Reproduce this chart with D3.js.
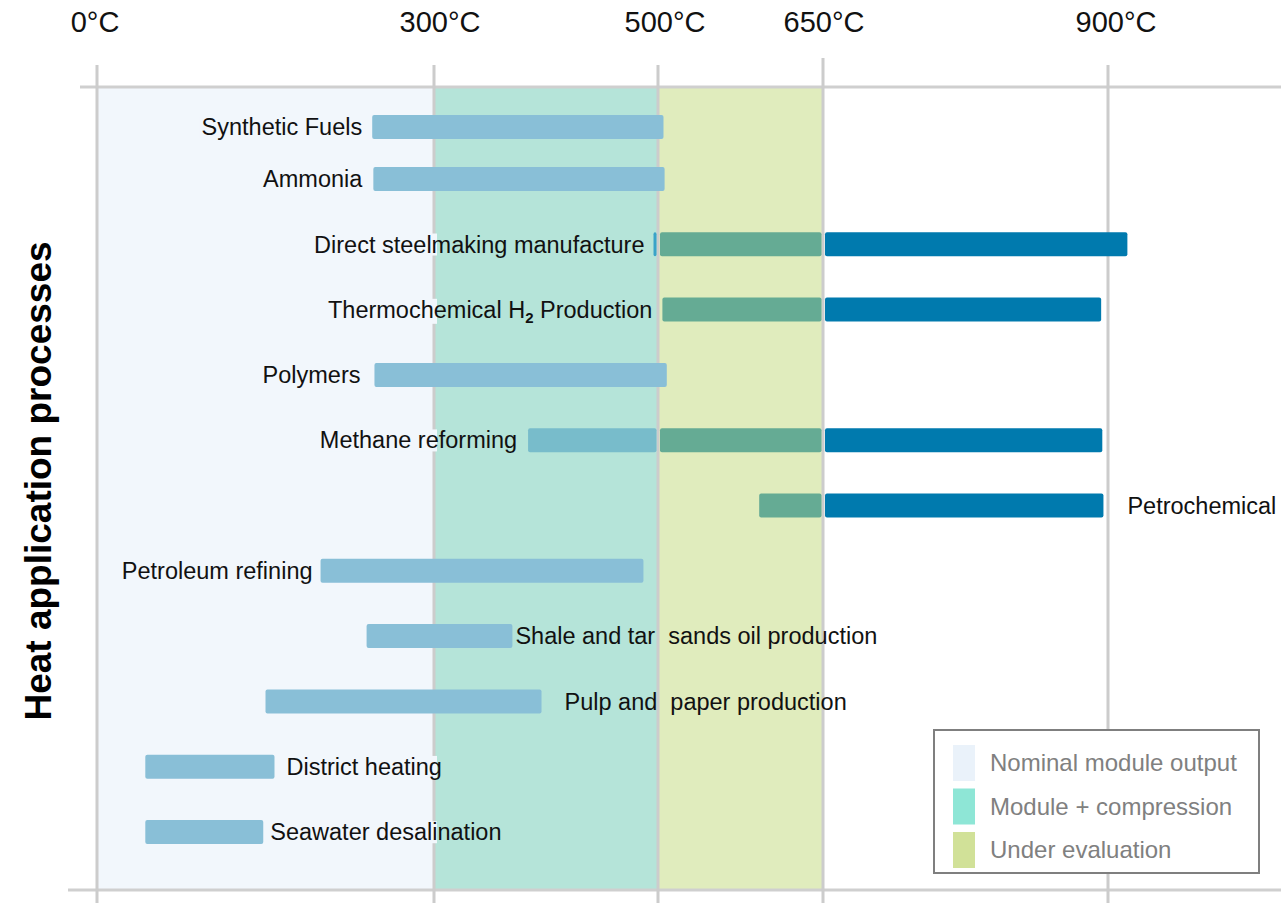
<!DOCTYPE html>
<html>
<head>
<meta charset="utf-8">
<script src="https://cdn.jsdelivr.net/npm/d3@7"></script>
<style>
  body { margin: 0; background: #fff; }
  text { font-family: "Liberation Sans", Arial, sans-serif; white-space: pre; }
</style>
</head>
<body>
<div id="chart"></div>
<script>
// temperature ticks shown on top
const ticks = [0, 300, 500, 650, 900];

// processes, top to bottom
const processes = [
  "Synthetic Fuels", "Ammonia", "Direct steelmaking manufacture",
  "Thermochemical H2 Production", "Polymers", "Methane reforming",
  "Petrochemical", "Petroleum refining", "Shale and tar  sands oil production",
  "Pulp and  paper production", "District heating", "Seawater desalination",
];

// light blue part (nominal / module range)
const lowStart = [245, 246, 496, null, 247, 384, null, 199, 240, 150, 43, 43];
const lowEnd   = [505, 506, 500, null, 508, 500, null, 487, 370, 396, 158, 148];
// green part (under evaluation)
const midStart = [null, null, 500, 504, null, 500, 592, null, null, null, null, null];
const midEnd   = [null, null, 650, 650, null, 650, 650, null, null, null, null, null];
// dark blue part (above 650)
const highStart = [null, null, 650, 650, null, 650, 650, null, null, null, null, null];
const highEnd   = [null, null, 917, 894, null, 895, 896, null, null, null, null, null];

// temperature bands
const bandNames = ["Nominal module output", "Module + compression", "Under evaluation"];
const bandFrom = [0, 300, 500];
const bandTo = [300, 500, 650];

// label placement
const labelSide = ["left", "left", "left", "left", "left", "left", "right", "left", "right", "right", "right", "right"];
const labelGap = [10, 11, 9, 10, 14, 11, 24, 8, 3, 23, 12, 7];
const tickShift = [-2, 6, 7, 1, 8];

const W = 1281, H = 903;
const bandFill = ["#f2f7fc", "#b5e4d9", "#e0ecbd"];
const swatchFill = ["#eaf2fa", "#8ee6d6", "#d1e198"];
const segFill = { low: "#89bfd7", mid: "#65ab94", high: "#007aae" };
const plotTop = 87, plotBottom = 890, barH = 24;

const x = d3.scaleLinear().domain(ticks).range([97, 434, 658, 823, 1108]);
const y = d3.scaleLinear().domain([0, 1, processes.length - 1]).range([127, 179, 832]);

const svg = d3.select("#chart").append("svg")
  .attr("width", W).attr("height", H);

// bands
svg.selectAll(".band")
  .data(bandNames)
  .join("rect")
  .attr("class", "band")
  .attr("x", (d, i) => x(bandFrom[i]))
  .attr("y", plotTop)
  .attr("width", (d, i) => x(bandTo[i]) - x(bandFrom[i]))
  .attr("height", plotBottom - plotTop)
  .attr("fill", (d, i) => bandFill[i]);

// grid
svg.append("line")
  .attr("x1", 80).attr("x2", W).attr("y1", plotTop).attr("y2", plotTop)
  .attr("stroke", "#cfcfcf").attr("stroke-width", 3);
svg.append("line")
  .attr("x1", 68).attr("x2", W).attr("y1", plotBottom).attr("y2", plotBottom)
  .attr("stroke", "#cfcfcf").attr("stroke-width", 3);
svg.selectAll(".grid")
  .data(ticks)
  .join("line")
  .attr("class", "grid")
  .attr("x1", (d) => x(d)).attr("x2", (d) => x(d))
  .attr("y1", (d) => (d === 650 ? 58 : 65)).attr("y2", H)
  .attr("stroke", "#cccccc").attr("stroke-width", 3);

// top axis labels
svg.selectAll(".tick")
  .data(ticks)
  .join("text")
  .attr("class", "tick")
  .attr("x", (d, i) => x(d) + tickShift[i])
  .attr("y", 32)
  .attr("text-anchor", "middle")
  .attr("font-size", 29)
  .attr("fill", "#111")
  .text((d) => d + "°C");

// bar segments
const segs = [];
processes.forEach((p, i) => {
  if (lowStart[i] != null) segs.push({ i, s: lowStart[i], e: lowEnd[i], k: "low" });
  if (midStart[i] != null) segs.push({ i, s: midStart[i], e: midEnd[i], k: "mid" });
  if (highStart[i] != null) segs.push({ i, s: highStart[i], e: highEnd[i], k: "high" });
});
// leave a small gap where two segments touch so the grid line shows
segs.forEach((d) => {
  const touchL = segs.some((o) => o !== d && o.i === d.i && o.e === d.s);
  const touchR = segs.some((o) => o !== d && o.i === d.i && o.s === d.e);
  d.x0 = x(d.s) + (touchL ? 2 : 0);
  d.x1 = x(d.e) - (touchR ? 1.5 : 0);
});

svg.selectAll(".seg")
  .data(segs)
  .join("rect")
  .attr("class", "seg")
  .attr("x", (d) => d.x0)
  .attr("y", (d) => y(d.i) - barH / 2)
  .attr("width", (d) => d.x1 - d.x0)
  .attr("height", barH)
  .attr("rx", 2)
  .attr("fill", (d) => {
    if (d.k !== "low") return segFill[d.k];
    if (d.s === 384) return "#78bccb";
    if (d.e - d.s < 10) return "#3aa3c8";
    return segFill.low;
  });

// labels
const first = processes.map((p, i) => d3.min(segs.filter((d) => d.i === i), (d) => d.x0));
const last = processes.map((p, i) => d3.max(segs.filter((d) => d.i === i), (d) => d.x1));

svg.append("clipPath").attr("id", "nomClip")
  .append("rect").attr("x", x(0)).attr("y", plotTop).attr("width", x(300) - x(0) + 3).attr("height", plotBottom - plotTop);

const labels = svg.selectAll(".lab")
  .data(processes)
  .join("text")
  .attr("class", "lab")
  .attr("x", (d, i) => (labelSide[i] === "left" ? first[i] - labelGap[i] : last[i] + labelGap[i]))
  .attr("y", (d, i) => y(i))
  .attr("dy", "0.35em")
  .attr("text-anchor", (d, i) => (labelSide[i] === "left" ? "end" : "start"))
  .attr("font-size", 23.5)
  .attr("fill", "#111");

labels.each(function (d) {
  const t = d3.select(this);
  if (d.includes("H2")) {
    const [a, b] = d.split("H2");
    t.append("tspan").text(a + "H");
    t.append("tspan").attr("font-size", 15).attr("font-weight", "bold").attr("dy", 5).text("2");
    t.append("tspan").attr("dy", -5).text(b);
  } else {
    t.text(d);
  }
});

// light backing behind labels inside the nominal band (hides the grid line)
labels.each(function () {
  const b = this.getBBox();
  svg.insert("rect", ".seg")
    .attr("x", b.x - 2).attr("y", b.y + 2)
    .attr("width", b.width + 4).attr("height", b.height - 4)
    .attr("fill", bandFill[0])
    .attr("clip-path", "url(#nomClip)");
});

// y title
svg.append("text")
  .attr("transform", "translate(51,481) rotate(-90)")
  .attr("text-anchor", "middle")
  .attr("font-size", 37)
  .attr("font-weight", "bold")
  .attr("fill", "#000")
  .text("Heat application processes");

// legend
const lg = svg.append("g").attr("transform", "translate(934,730)");
lg.append("rect")
  .attr("width", 325).attr("height", 143)
  .attr("fill", "#fff").attr("stroke", "#7f7f7f").attr("stroke-width", 2);
lg.selectAll(".sw")
  .data(bandNames)
  .join("rect")
  .attr("class", "sw")
  .attr("x", 19).attr("y", (d, i) => 15 + i * 43.5)
  .attr("width", 22).attr("height", 36)
  .attr("fill", (d, i) => swatchFill[i]);
lg.selectAll(".lt")
  .data(bandNames)
  .join("text")
  .attr("class", "lt")
  .attr("x", 56).attr("y", (d, i) => 33 + i * 43.5)
  .attr("dy", "0.35em")
  .attr("font-size", 24)
  .attr("fill", "#808080")
  .text((d) => d);
</script>
</body>
</html>
